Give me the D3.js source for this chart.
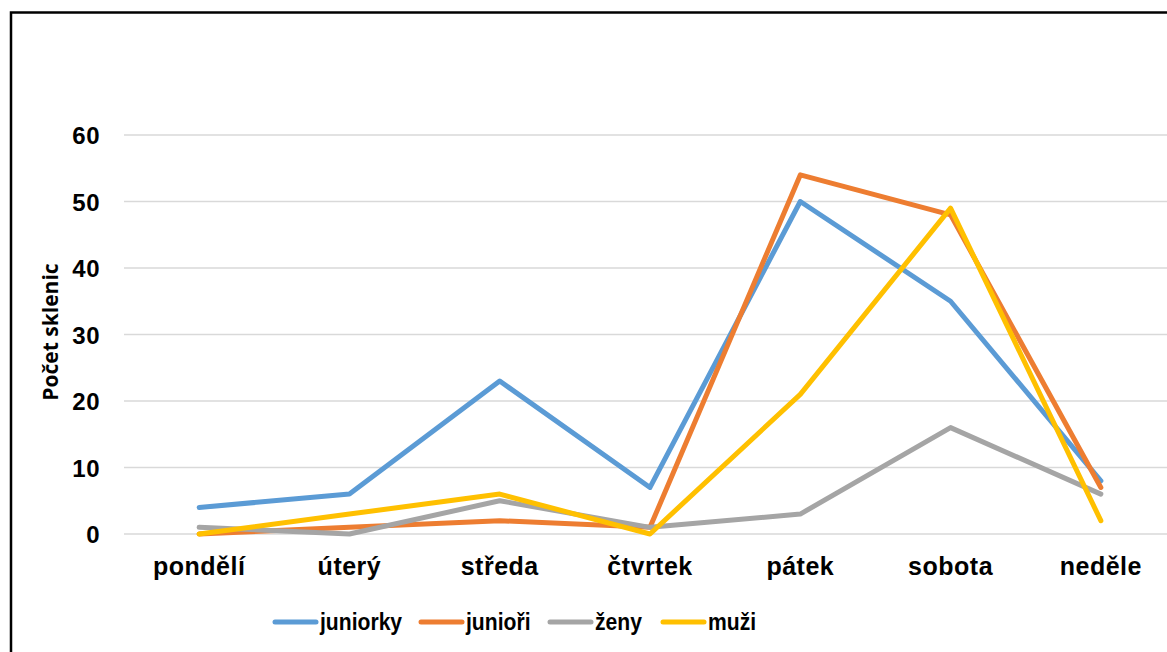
<!DOCTYPE html>
<html>
<head>
<meta charset="utf-8">
<script src="https://cdn.jsdelivr.net/npm/d3@7"></script>
<style>
  body { margin: 0; background: #fff; }
  text { font-family: "Liberation Sans", Arial, sans-serif; font-weight: bold; fill: #000; }
</style>
</head>
<body>
<div id="chart"></div>
<script>
  'use strict';
  // data
  var days = ['pondělí', 'úterý', 'středa', 'čtvrtek', 'pátek', 'sobota', 'neděle'];
  var juniorky = [4, 6, 23, 7, 50, 35, 8];
  var juniori = [0, 1, 2, 1, 54, 48, 7];
  var zeny = [1, 0, 5, 1, 3, 16, 6];
  var muzi = [0, 3, 6, 0, 21, 49, 2];
  var yTicks = [0, 10, 20, 30, 40, 50, 60];

  var series = [
    { name: 'juniorky', values: juniorky, color: '#5b9bd5' },
    { name: 'junioři', values: juniori, color: '#ed7d31' },
    { name: 'ženy', values: zeny, color: '#a5a5a5' },
    { name: 'muži', values: muzi, color: '#ffc000' }
  ];

  var width = 1167;
  var height = 652;

  var svg = d3.select('#chart').append('svg')
    .attr('width', width)
    .attr('height', height);

  // outer frame (cut off at right/bottom)
  svg.append('rect')
    .attr('x', 11)
    .attr('y', 12.5)
    .attr('width', 1200)
    .attr('height', 700)
    .attr('fill', 'none')
    .attr('stroke', '#000')
    .attr('stroke-width', 2.5);

  var x = d3.scaleBand()
    .domain(days)
    .range([124, 1176]);

  var y = d3.scaleLinear()
    .domain([0, 60])
    .range([534, 135]);

  // grid
  svg.append('g')
    .selectAll('line')
    .data(yTicks)
    .enter()
    .append('line')
    .attr('x1', 124)
    .attr('x2', 1176)
    .attr('y1', function (d) { return y(d); })
    .attr('y2', function (d) { return y(d); })
    .attr('stroke', '#d9d9d9')
    .attr('stroke-width', 1.5);

  // y axis labels
  var yAxis = svg.append('g')
    .attr('transform', 'translate(100,0)')
    .call(d3.axisLeft(y).tickValues(yTicks).tickSize(0).tickPadding(0));
  yAxis.select('.domain').remove();
  yAxis.selectAll('text')
    .attr('font-size', 24)
    .attr('letter-spacing', 0.5)
    .attr('dy', '0.36em')
    .attr('x', 0);

  // x axis labels
  var xAxis = svg.append('g')
    .attr('transform', 'translate(0,557)')
    .call(d3.axisBottom(x).tickSize(0).tickPadding(0));
  xAxis.select('.domain').remove();
  xAxis.selectAll('text')
    .attr('font-size', 25)
    .attr('letter-spacing', 0.5)
    .attr('dy', '0.71em');

  svg.append('text')
    .attr('transform', 'translate(58,332) rotate(-90)')
    .attr('text-anchor', 'middle')
    .style('font-family', '"Open Sans", sans-serif')
    .attr('font-size', 21)
    .text('Počet sklenic');

  var line = d3.line()
    .x(function (d, i) { return x(days[i]) + x.bandwidth() / 2; })
    .y(function (d) { return y(d); });

  svg.append('g')
    .selectAll('path')
    .data(series)
    .enter()
    .append('path')
    .attr('d', function (d) { return line(d.values); })
    .attr('fill', 'none')
    .attr('stroke', function (d) { return d.color; })
    .attr('stroke-width', 5)
    .attr('stroke-linejoin', 'round')
    .attr('stroke-linecap', 'round');

  // legend
  var legendX = [275, 421, 550, 663];
  var legend = svg.append('g')
    .selectAll('g')
    .data(series)
    .enter()
    .append('g')
    .attr('transform', function (d, i) { return 'translate(' + legendX[i] + ',622)'; });
  legend.append('line')
    .attr('x1', 0)
    .attr('x2', 41)
    .attr('stroke', function (d) { return d.color; })
    .attr('stroke-width', 5)
    .attr('stroke-linecap', 'round');
  // legend text looks condensed in the original
  legend.append('text')
    .attr('transform', 'translate(45,0) scale(0.88,1)')
    .attr('dy', '0.35em')
    .attr('font-size', 24)
    .text(function (d) { return d.name; });
</script>
</body>
</html>
